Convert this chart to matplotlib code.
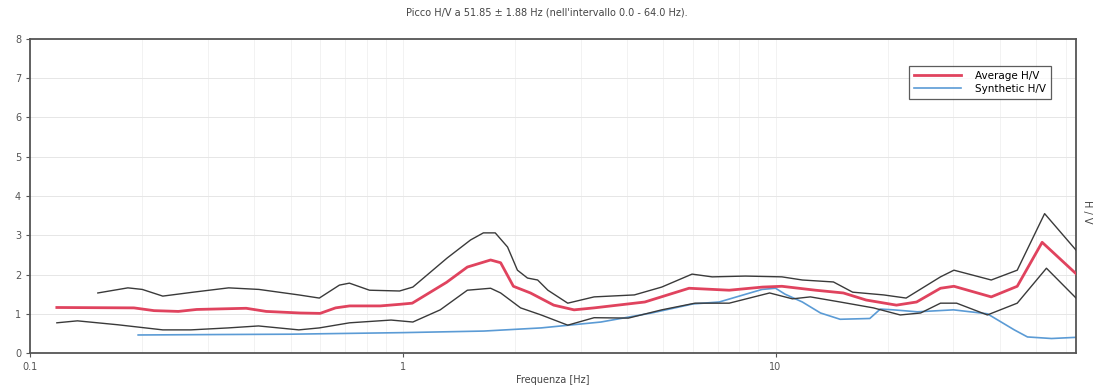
import matplotlib
matplotlib.use("Agg")
import matplotlib.pyplot as plt
from matplotlib.ticker import FixedLocator, NullFormatter

# Average H/V curve
avg_freq = [0.118, 0.19, 0.215, 0.25, 0.28, 0.38, 0.43, 0.53, 0.60, 0.66, 0.72, 0.87, 0.98,
            1.06, 1.31, 1.49, 1.72, 1.83, 1.98, 2.20, 2.54, 2.88, 3.26, 4.46, 5.86, 7.51,
            9.23, 10.4, 12.8, 15.2, 17.5, 21.1, 23.9, 27.7, 30.1, 37.9, 44.5, 51.9, 64.0]
avg_hv = [1.16, 1.15, 1.08, 1.06, 1.11, 1.14, 1.06, 1.02, 1.01, 1.15, 1.20, 1.20, 1.24,
          1.27, 1.80, 2.19, 2.37, 2.30, 1.70, 1.53, 1.22, 1.10, 1.15, 1.30, 1.65, 1.60,
          1.68, 1.70, 1.60, 1.53, 1.35, 1.22, 1.30, 1.65, 1.70, 1.43, 1.70, 2.82, 2.02]

# Average + standard deviation
up_freq = [0.152, 0.183, 0.20, 0.227, 0.274, 0.341, 0.411, 0.526, 0.597, 0.676, 0.719, 0.814,
           0.98, 1.064, 1.315, 1.52, 1.645, 1.77, 1.91, 2.03, 2.16, 2.30, 2.45, 2.77, 3.26,
           4.18, 4.95, 5.97, 6.76, 8.30, 10.4, 11.8, 14.3, 16.1, 19.5, 22.4, 27.7, 30.1,
           37.9, 44.5, 52.7, 64.0]
up_hv = [1.53, 1.66, 1.62, 1.45, 1.55, 1.66, 1.62, 1.48, 1.40, 1.73, 1.78, 1.60,
         1.58, 1.68, 2.42, 2.88, 3.06, 3.06, 2.70, 2.11, 1.91, 1.86, 1.60, 1.27, 1.43,
         1.48, 1.68, 2.01, 1.94, 1.96, 1.94, 1.86, 1.81, 1.55, 1.48, 1.40, 1.94, 2.11,
         1.86, 2.11, 3.55, 2.62]

# Average - standard deviation
lo_freq = [0.118, 0.134, 0.172, 0.227, 0.27, 0.34, 0.41, 0.526, 0.597, 0.72, 0.93, 1.064,
           1.26, 1.49, 1.72, 1.83, 2.07, 2.35, 2.77, 3.26, 4.03, 4.95, 6.08, 7.51, 9.64,
           11.1, 12.4, 14.9, 18.3, 21.6, 24.5, 27.7, 30.6, 37.0, 44.5, 53.3, 64.0]
lo_hv = [0.77, 0.82, 0.72, 0.59, 0.59, 0.64, 0.69, 0.59, 0.64, 0.77, 0.84, 0.79,
         1.10, 1.60, 1.65, 1.53, 1.15, 0.97, 0.71, 0.90, 0.89, 1.10, 1.27, 1.27, 1.53,
         1.38, 1.43, 1.30, 1.15, 0.97, 1.02, 1.27, 1.27, 0.97, 1.27, 2.16, 1.40]

# Synthetic H/V curve
syn_freq = [0.195, 0.30, 0.50, 1.0, 1.65, 2.35, 3.40, 4.65, 6.0, 7.06, 9.2, 10.0, 10.6,
            11.8, 13.2, 14.9, 17.9, 19.1, 20.7, 24.0, 30.0, 37.0, 43.7, 47.4, 55.0, 64.0]
syn_hv = [0.46, 0.47, 0.48, 0.52, 0.56, 0.64, 0.79, 1.02, 1.25, 1.30, 1.62, 1.65, 1.50,
          1.30, 1.02, 0.86, 0.88, 1.12, 1.10, 1.05, 1.10, 1.00, 0.59, 0.41, 0.37, 0.40]

y_ticks = [0, 1, 2, 3, 4, 5, 6, 7, 8]
x_ticks = [0.1, 1, 10]
x_tick_labels = ["0.1", "1", "10"]

fig = plt.figure(figsize=(10.93, 3.85), dpi=100)
ax = fig.add_axes([0.0275, 0.083, 0.957, 0.816])

ax.plot(up_freq, up_hv, color="#3a3a3a", lw=1.0, zorder=3)
ax.plot(lo_freq, lo_hv, color="#3a3a3a", lw=1.0, zorder=3)
ax.plot(avg_freq, avg_hv, color="#e0435e", lw=2.0, label="Average H/V", zorder=4)
ax.plot(syn_freq, syn_hv, color="#5b9bd5", lw=1.2, label="Synthetic H/V", zorder=2)

ax.set_xscale("log")
ax.set_xlim(0.1, 64)
ax.set_ylim(0, 8)
ax.set_yticks(y_ticks)
ax.set_yticklabels([str(v) for v in y_ticks])
ax.xaxis.set_major_locator(FixedLocator(x_ticks))
ax.set_xticklabels(x_tick_labels)
ax.xaxis.set_minor_formatter(NullFormatter())

ax.grid(True, which="major", axis="y", color="#e6e6e6", lw=0.7)
ax.grid(True, which="both", axis="x", color="#f0f0f0", lw=0.6)
ax.set_axisbelow(True)

for s in ax.spines.values():
    s.set_color("#555555")
    s.set_linewidth(1.3)
ax.tick_params(axis="both", labelsize=7, colors="#555555", length=3, width=0.8)
ax.tick_params(axis="x", which="minor", length=0)

ax.set_xlabel("Frequenza [Hz]", fontsize=7, color="#444444", labelpad=2)
ax.yaxis.set_label_position("right")
ax.set_ylabel("H / V", fontsize=7, color="#444444", rotation=270, labelpad=10)
ax.yaxis.set_label_coords(1.015, 0.45)

fig.text(0.5, 0.968, "Picco H/V a 51.85 ± 1.88 Hz (nell'intervallo 0.0 - 64.0 Hz).",
         ha="center", va="center", fontsize=7, color="#444444")

leg = ax.legend(loc="upper right", bbox_to_anchor=(0.981, 0.93), fontsize=7.5,
                frameon=True, fancybox=False, borderpad=0.45, handlelength=4.5,
                labelspacing=0.3, handletextpad=1.4)
leg.get_frame().set_edgecolor("#333333")
leg.get_frame().set_linewidth(0.9)

fig.savefig("out.png", dpi=100)
